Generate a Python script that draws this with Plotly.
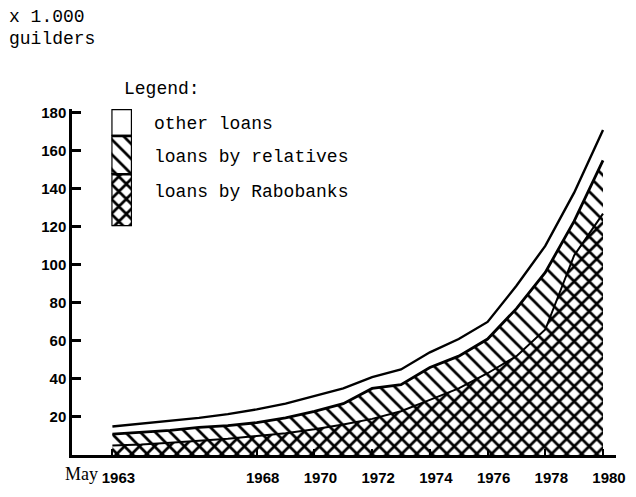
import plotly.graph_objects as go

# ---- data (values in 1,000 guilders, May of each year) ----
years = list(range(1963, 1981))
rabobanks = [5, 5.5, 6.5, 7.5, 8.5, 10, 11.5, 13.5, 16, 19, 23, 29, 35, 43, 52, 66, 105, 127]
relatives = [6, 6.5, 6.5, 7, 7, 7, 8, 9.5, 11, 16, 14, 17, 17, 18, 25, 30, 18, 28]
other_loans = [4, 4.5, 5, 5, 6, 7, 7.5, 8, 8, 6, 8, 8, 9, 9, 12, 14, 15, 16]

x_tick_vals = [1963, 1968, 1970, 1972, 1974, 1976, 1978, 1980]
x_tick_text = ["1963", "1968", "1970", "1972", "1974", "1976", "1978", "1980"]
y_tick_vals = [20, 40, 60, 80, 100, 120, 140, 160, 180]
y_tick_text = ["20", "40", "60", "80", "100", "120", "140", "160", "180"]
legend_labels = ["other loans", "loans by relatives", "loans by Rabobanks"]

# ---- geometry helpers (pixel -> paper) ----
W, H = 636, 497
ML, MR, MT, MB = 72, 11, 109, 28
PW, PH = W - ML - MR, H - MT - MB


def px(x):
    return (x - ML) / PW


def py(y):
    return (H - MB - y) / PH


MONO = "Liberation Mono, Courier New, monospace"
SANS = "Liberation Sans Narrow, Liberation Sans, Arial, sans-serif"

cross = dict(shape="x", size=10.6, solidity=0.45, fgcolor="black", bgcolor="white", fillmode="replace")
diag = dict(shape="\\", size=10.6, solidity=0.26, fgcolor="black", bgcolor="white", fillmode="replace")

fig = go.Figure()
fig.add_trace(go.Scatter(x=years, y=rabobanks, mode="lines", stackgroup="one",
                         line=dict(color="black", width=2), fillcolor="white",
                         fillpattern=cross, name=legend_labels[2], showlegend=False))
fig.add_trace(go.Scatter(x=years, y=relatives, mode="lines", stackgroup="one",
                         line=dict(color="black", width=2.8), fillcolor="white",
                         fillpattern=diag, name=legend_labels[1], showlegend=False))
fig.add_trace(go.Scatter(x=years, y=other_loans, mode="lines", stackgroup="one",
                         line=dict(color="black", width=2.4), fillcolor="rgba(255,255,255,0)",
                         name=legend_labels[0], showlegend=False))

# ---- legend swatch box (own small axes, unit square) ----
swatch_bounds = [(0.77, 1.0, None), (0.443, 0.77, diag), (0.0, 0.443, cross)]
for lo, hi, pat in swatch_bounds:
    kw = dict(fillpattern=pat) if pat else {}
    fig.add_trace(go.Scatter(x=[0, 1, 1, 0, 0], y=[lo, lo, hi, hi, lo], mode="lines",
                             fill="toself", fillcolor="white", line=dict(color="black", width=2.4),
                             xaxis="x2", yaxis="y2", showlegend=False, hoverinfo="skip", **kw))

fig.update_layout(
    width=W, height=H,
    margin=dict(l=ML, r=MR, t=MT, b=MB),
    paper_bgcolor="white", plot_bgcolor="rgba(0,0,0,0)",
    showlegend=False,
    xaxis=dict(range=[1961.6, 1980.45], tickvals=x_tick_vals, ticktext=x_tick_text,
               ticks="inside", ticklen=6, tickwidth=1.5, tickcolor="black",
               showline=True, linecolor="black", linewidth=2.5, showgrid=False, zeroline=False,
               tickfont=dict(family=SANS, size=15, color="black", weight="bold"),
               ticklabelshift=6, ticklabelstandoff=7, ticklabeloverflow="allow"),
    yaxis=dict(range=[0, 182], tickvals=y_tick_vals, ticktext=y_tick_text,
               ticks="inside", ticklen=9, tickwidth=2.5, tickcolor="black",
               showline=True, linecolor="black", linewidth=2.5, showgrid=False, zeroline=False,
               tickfont=dict(family=SANS, size=15, color="black", weight="bold")),
    xaxis2=dict(domain=[px(112), px(133)], range=[0, 1], visible=False, anchor="y2", fixedrange=True),
    yaxis2=dict(domain=[py(231), py(109)], range=[0, 1], visible=False, anchor="x2", fixedrange=True),
)

ann = [
    ("x 1.000", 6, 13, MONO, 18),
    ("guilders", 6, 36, MONO, 18),
    ("Legend:", 123, 88, MONO, 18),
    (legend_labels[0], 153, 125, MONO, 18),
    (legend_labels[1], 153, 159, MONO, 18),
    (legend_labels[2], 153, 195, MONO, 18),
    ("May", 63, 489, "Liberation Serif, Times New Roman, serif", 18),
]
for text, x, y, fam, size in ann:
    fig.add_annotation(text=text, xref="paper", yref="paper", x=px(x), y=py(y),
                       xanchor="left", yanchor="middle", showarrow=False,
                       font=dict(family=fam, size=size, color="black"))

fig.write_html("out.html", config={"displayModeBar": False},
               post_script="document.body.style.margin='0px';")
